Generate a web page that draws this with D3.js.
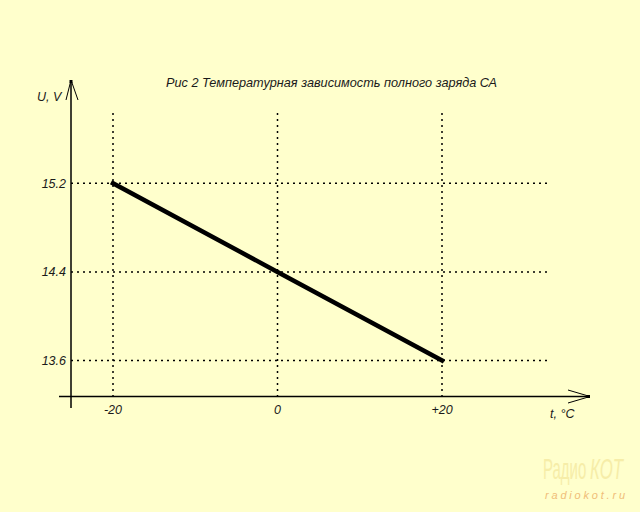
<!DOCTYPE html>
<html><head><meta charset="utf-8">
<script src="https://cdn.jsdelivr.net/npm/d3@7/dist/d3.min.js"></script>
<style>html,body{margin:0;padding:0;background:#FFFFCC;}svg{display:block;}</style>
</head><body>
<script>
const temps = [-20, 0, 20];
const voltage = [15.2, 14.4, 13.6];
const xTickLabels = ["-20", "0", "+20"];
const yTicks = [13.6, 14.4, 15.2];
const yTickLabels = ["13.6", "14.4", "15.2"];
const title = "Рис 2 Температурная зависимость полного заряда СА";

const W = 640, H = 512;
const svg = d3.select("body").append("svg").attr("width", W).attr("height", H);
svg.append("rect").attr("width", W).attr("height", H).attr("fill", "#FFFFCC");

const x = d3.scaleLinear().domain([-20, 20]).range([113, 442]);
const y = d3.scaleLinear().domain([13.6, 15.2]).range([360.5, 183.3]);
const x0 = 71, y0 = 396.5;
const font = "'Liberation Sans', Arial, sans-serif";

// grid
const grid = svg.append("g").attr("stroke", "#000").attr("stroke-width", 1.5).attr("stroke-dasharray", "2,4");
grid.selectAll("line.v").data(temps).join("line")
  .attr("x1", d => x(d)).attr("x2", d => x(d)).attr("y1", 113).attr("y2", y0);
grid.selectAll("line.h").data(yTicks).join("line")
  .attr("x1", x0).attr("x2", 548).attr("y1", d => y(d)).attr("y2", d => y(d));

// axes
const ax = svg.append("g").attr("stroke", "#000").attr("stroke-width", 1.5).attr("fill", "none");
ax.append("line").attr("x1", x0).attr("x2", x0).attr("y1", 80).attr("y2", 408);
ax.append("line").attr("x1", 59).attr("x2", 590).attr("y1", y0).attr("y2", y0);
ax.append("path").attr("stroke-width", 1).attr("d", `M66,100 L${x0},80 L78,100`);
ax.append("path").attr("stroke-width", 1).attr("d", `M568,390 L590,${y0} L568,403`);
svg.append("path").attr("fill", "#000").attr("d", `M${x0-1.5},80 h3 v3 h-3 Z`);
svg.append("path").attr("fill", "#000").attr("d", `M587,${y0-1.5} h3 v3 h-3 Z`);

// data line
const pts = temps.map((t, i) => [t, voltage[i]]);
svg.append("path").datum(pts)
  .attr("fill", "none").attr("stroke", "#000").attr("stroke-width", 4.5).attr("stroke-linecap", "square")
  .attr("d", d3.line().x(d => x(d[0])).y(d => y(d[1])));

// tick labels
const tl = svg.append("g").attr("font-family", font).attr("font-style", "italic").attr("font-size", 12.5).attr("fill", "#1a1a1a");
tl.selectAll("text.y").data(yTicks).join("text")
  .attr("x", 66).attr("y", d => y(d) + 4.5).attr("text-anchor", "end").text((d, i) => yTickLabels[i]);
tl.selectAll("text.x").data(temps).join("text")
  .attr("x", d => x(d)).attr("y", 414).attr("text-anchor", "middle").text((d, i) => xTickLabels[i]);
tl.append("text").attr("x", 37).attr("y", 101).text("U, V");
tl.append("text").attr("x", 550).attr("y", 418).text("t, °C");
tl.append("text").attr("x", 166).attr("y", 87).attr("font-size", 12.8)
  .attr("textLength", 331).attr("lengthAdjust", "spacingAndGlyphs").text(title);

// watermark
svg.append("g").attr("transform", "translate(543,479) scale(0.5,1)")
  .append("text").attr("font-family", font).attr("font-size", 30).attr("fill", "#F6EDA8").text("Радио");
svg.append("g").attr("transform", "translate(590,479) scale(0.56,1)")
  .append("text").attr("font-family", font).attr("font-size", 30).attr("font-style", "italic").attr("fill", "#F6EDA8").text("КОТ");
svg.append("text").attr("x", 545).attr("y", 499).attr("font-family", font).attr("font-size", 11)
  .attr("font-style", "italic").attr("fill", "#F0BD78").attr("textLength", 80).attr("lengthAdjust", "spacing").text("radiokot.ru");
</script>
</body></html>
